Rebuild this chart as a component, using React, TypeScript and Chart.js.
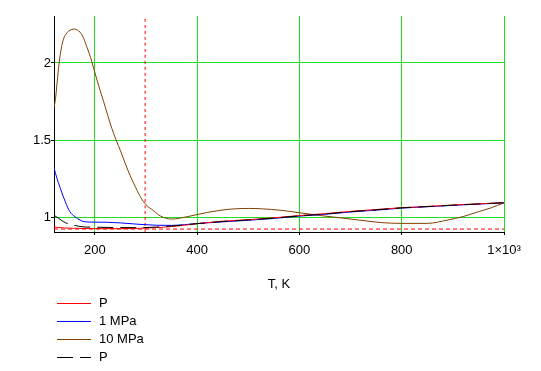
import React, { useEffect, useRef } from "react";
import { Chart, registerables } from "chart.js";

Chart.register(...registerables);

// ---- data ----
const xTicks = [200, 400, 600, 800, 1000];
const yTicks = [1, 1.5, 2];
const xMin = 120;
const xMax = 1000;
const yMin = 0.903;
const yMax = 2.305;

const legendLabels = ["P", "1 MPa", "10 MPa", "P"];

// "P" (red, solid)
const redT = [120, 140, 160, 200, 250, 290, 320, 350, 400, 450, 500, 550, 600, 650, 700, 750, 800, 850, 900, 950, 1000];
const redV = [0.935, 0.929, 0.927, 0.925, 0.925, 0.927, 0.932, 0.938, 0.957, 0.973, 0.983, 0.995, 1.01, 1.022, 1.037, 1.049, 1.061, 1.069, 1.078, 1.086, 1.093];

// "1 MPa" (blue)
const blueT = [120, 125, 132, 142, 151, 161, 171, 181, 200, 225, 250, 290, 320, 350, 400, 450, 500, 550, 600, 650, 700, 750, 800, 850, 900, 950, 1000];
const blueV = [1.32, 1.26, 1.19, 1.1, 1.035, 1.002, 0.98, 0.969, 0.967, 0.966, 0.962, 0.952, 0.947, 0.946, 0.958, 0.969, 0.979, 0.991, 1.006, 1.018, 1.033, 1.045, 1.058, 1.067, 1.076, 1.084, 1.092];

// "10 MPa" (brown)
const brownT = [120, 123, 126, 130, 134, 138, 143, 148, 155, 160, 166, 171, 178, 184, 189, 194, 204, 217, 233, 250, 265, 280, 290, 300, 315, 328, 350, 380, 420, 460, 500, 560, 600, 640, 680, 720, 760, 800, 850, 890, 920, 950, 975, 1000];
const brownV = [1.71, 1.77, 1.87, 2.0, 2.09, 2.15, 2.185, 2.205, 2.218, 2.22, 2.213, 2.2, 2.16, 2.106, 2.06, 2.008, 1.89, 1.75, 1.576, 1.43, 1.3, 1.19, 1.125, 1.08, 1.04, 1.007, 0.987, 1.002, 1.03, 1.05, 1.056, 1.045, 1.028, 1.01, 0.995, 0.979, 0.964, 0.959, 0.959, 0.981, 1.003, 1.035, 1.06, 1.093];

// "P" (black, dashed)
const blackT = [120, 130, 138, 148, 160, 175, 200, 250, 290, 320, 350, 400, 450, 500, 550, 600, 650, 700, 750, 800, 850, 900, 950, 1000];
const blackV = [1.012, 0.99, 0.971, 0.956, 0.946, 0.937, 0.934, 0.932, 0.931, 0.935, 0.942, 0.957, 0.971, 0.981, 0.993, 1.008, 1.02, 1.035, 1.047, 1.06, 1.068, 1.077, 1.085, 1.093];

// marker lines
const markerT = 298.15;
const markerV = 0.922;

const FONT = "'Liberation Sans', Arial, sans-serif";
const GRID = "#22dd22";

const pts = (xs: number[], ys: number[]) => xs.map((x, i) => ({ x, y: ys[i] }));

const legendPlugin = {
  id: "stackLegend",
  afterDraw(chart: any) {
    const ctx = chart.ctx;
    ctx.save();
    ctx.font = `13px ${FONT}`;
    ctx.textBaseline = "middle";
    ctx.textAlign = "left";
    chart.data.datasets.forEach((ds: any) => {
      if (ds.legendRow == null) return;
      const y = 303.5 + 18 * ds.legendRow;
      ctx.strokeStyle = ds.borderColor;
      ctx.lineWidth = 1;
      ctx.setLineDash(ds.borderDash || []);
      ctx.beginPath();
      ctx.moveTo(57, y);
      ctx.lineTo(91, y);
      ctx.stroke();
      ctx.setLineDash([]);
      ctx.fillStyle = "#000";
      ctx.fillText(ds.label, 99, y);
    });
    ctx.restore();
  },
};

export default function App() {
  const ref = useRef<HTMLCanvasElement | null>(null);

  useEffect(() => {
    if (!ref.current) return;
    const line = {
      borderWidth: 1,
      pointRadius: 0,
      fill: false,
      cubicInterpolationMode: "monotone" as const,
    };
    const chart = new Chart(ref.current, {
      type: "line",
      data: {
        datasets: [
          { ...line, label: legendLabels[0], data: pts(redT, redV), borderColor: "#ff0000", order: 1, legendRow: 0 } as any,
          { ...line, label: legendLabels[1], data: pts(blueT, blueV), borderColor: "#0000ff", order: 2, legendRow: 1 } as any,
          { ...line, label: legendLabels[2], data: pts(brownT, brownV), borderColor: "#804000", order: 3, legendRow: 2 } as any,
          { ...line, label: legendLabels[3], data: pts(blackT, blackV), borderColor: "#000000", borderDash: [16, 7], order: 0, legendRow: 3 } as any,
          { ...line, label: "markerT", data: [{ x: markerT, y: yMin }, { x: markerT, y: yMax }], borderColor: "#ff0000", borderDash: [3, 3], order: 5 } as any,
          { ...line, label: "markerV", data: [{ x: xMin, y: markerV }, { x: xMax, y: markerV }], borderColor: "#ff0000", borderDash: [4, 3], order: 5 } as any,
        ],
      },
      options: {
        animation: false,
        responsive: false,
        devicePixelRatio: 1,
        layout: { padding: { left: 0, top: 16, right: 37, bottom: 79 } },
        plugins: { legend: { display: false }, tooltip: { enabled: false } },
        scales: {
          x: {
            type: "linear",
            min: xMin,
            max: xMax,
            afterBuildTicks: (s: any) => { s.ticks = xTicks.map((v) => ({ value: v })); },
            afterFit: (s: any) => { s.height = 60; },
            ticks: {
              color: "#000",
              font: { family: FONT, size: 13 },
              padding: 8,
              maxRotation: 0,
              autoSkip: false,
              callback: (v: any) => (Number(v) === 1000 ? "1×10³" : String(v)),
            },
            grid: { color: GRID, tickColor: "#000", tickLength: 3, lineWidth: 1 },
            border: { display: true, color: "#000", width: 1 },
            title: { display: true, text: "T, K", color: "#000", font: { family: FONT, size: 13 }, padding: 0 },
          },
          y: {
            type: "linear",
            min: yMin,
            max: yMax,
            afterBuildTicks: (s: any) => { s.ticks = yTicks.map((v) => ({ value: v })); },
            afterFit: (s: any) => { s.width = 54; },
            ticks: {
              color: "#000",
              font: { family: FONT, size: 13 },
              padding: 0,
              autoSkip: false,
              callback: (v: any) => String(v),
            },
            grid: { color: GRID, tickColor: "#000", tickLength: 3, lineWidth: 1 },
            border: { display: true, color: "#000", width: 1 },
          },
        },
      } as any,
      plugins: [legendPlugin],
    });
    return () => chart.destroy();
  }, []);

  return (
    <div style={{ position: "fixed", left: 0, top: 0, width: 541, height: 371, background: "#fff" }}>
      <canvas ref={ref} width={541} height={371} style={{ width: 541, height: 371, display: "block" }} />
    </div>
  );
}
